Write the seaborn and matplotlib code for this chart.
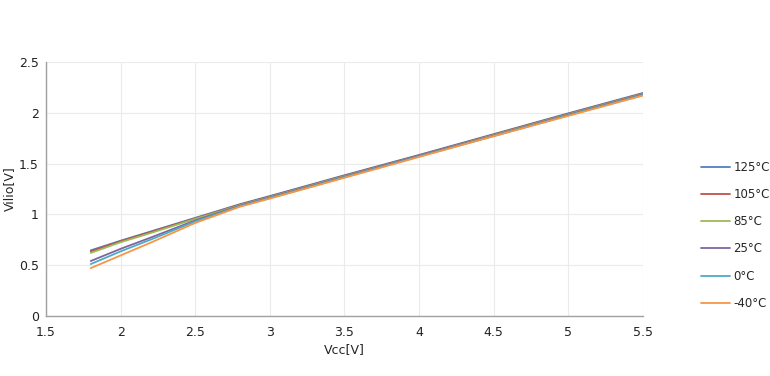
import seaborn as sns
import matplotlib.pyplot as plt
import pandas as pd

# Data
vcc = [1.8, 2.0, 2.2, 2.5, 2.8, 3.0, 3.5, 4.0, 4.5, 5.0, 5.5]
temps = ['125°C', '105°C', '85°C', '25°C', '0°C', '-40°C']
vilio = {
    '125°C': [0.645, 0.74, 0.83, 0.965, 1.10, 1.18, 1.385, 1.585, 1.79, 1.995, 2.195],
    '105°C': [0.635, 0.735, 0.825, 0.96, 1.095, 1.175, 1.38, 1.58, 1.785, 1.99, 2.19],
    '85°C':  [0.62, 0.725, 0.815, 0.955, 1.09, 1.17, 1.375, 1.575, 1.78, 1.985, 2.185],
    '25°C':  [0.54, 0.66, 0.77, 0.94, 1.085, 1.165, 1.37, 1.575, 1.775, 1.98, 2.18],
    '0°C':   [0.51, 0.635, 0.75, 0.93, 1.08, 1.16, 1.365, 1.57, 1.77, 1.975, 2.175],
    '-40°C': [0.47, 0.595, 0.72, 0.915, 1.075, 1.155, 1.36, 1.565, 1.77, 1.97, 2.17],
}
colors = ['#4F81BD', '#C0504D', '#9BBB59', '#8064A2', '#4BACC6', '#F79646']

rows = []
for t in temps:
    for x, y in zip(vcc, vilio[t]):
        rows.append({'Vcc': x, 'Vilio': y, 'temp': t})
df = pd.DataFrame(rows)

sns.set_style('white')
plt.rcParams['font.family'] = ['DejaVu Sans']

fig = plt.figure(figsize=(7.7, 3.76), dpi=100)
ax = fig.add_axes([0.0597, 0.16, 0.7753, 0.675])
sns.lineplot(data=df, x='Vcc', y='Vilio', hue='temp', hue_order=temps,
             palette=colors, linewidth=1.3, ax=ax)

ax.set_xlim(1.5, 5.5)
ax.set_ylim(0, 2.5)
ax.set_xticks([1.5, 2, 2.5, 3, 3.5, 4, 4.5, 5, 5.5])
ax.set_xticklabels(['1.5', '2', '2.5', '3', '3.5', '4', '4.5', '5', '5.5'])
ax.set_yticks([0, 0.5, 1, 1.5, 2, 2.5])
ax.set_yticklabels(['0', '0.5', '1', '1.5', '2', '2.5'])
ax.tick_params(axis='x', labelsize=9, length=0, pad=7, colors='#222222')
ax.tick_params(axis='y', labelsize=9, length=0, pad=5, colors='#222222')
ax.grid(True, color='#ebebeb', linewidth=0.8)
for s in ['top', 'right']:
    ax.spines[s].set_visible(False)
for s in ['left', 'bottom']:
    ax.spines[s].set_color('#a0a0a0')
    ax.spines[s].set_linewidth(1.0)
ax.set_xlabel('Vcc[V]', fontsize=9, labelpad=3)
ax.set_ylabel('Vilio[V]', fontsize=9, labelpad=2)

ax.legend(loc='center left', bbox_to_anchor=(1.08, 0.317), frameon=False,
          fontsize=8.5, labelspacing=1.2, handlelength=2.4, handletextpad=0.3)

fig.savefig('out.png', dpi=100)
